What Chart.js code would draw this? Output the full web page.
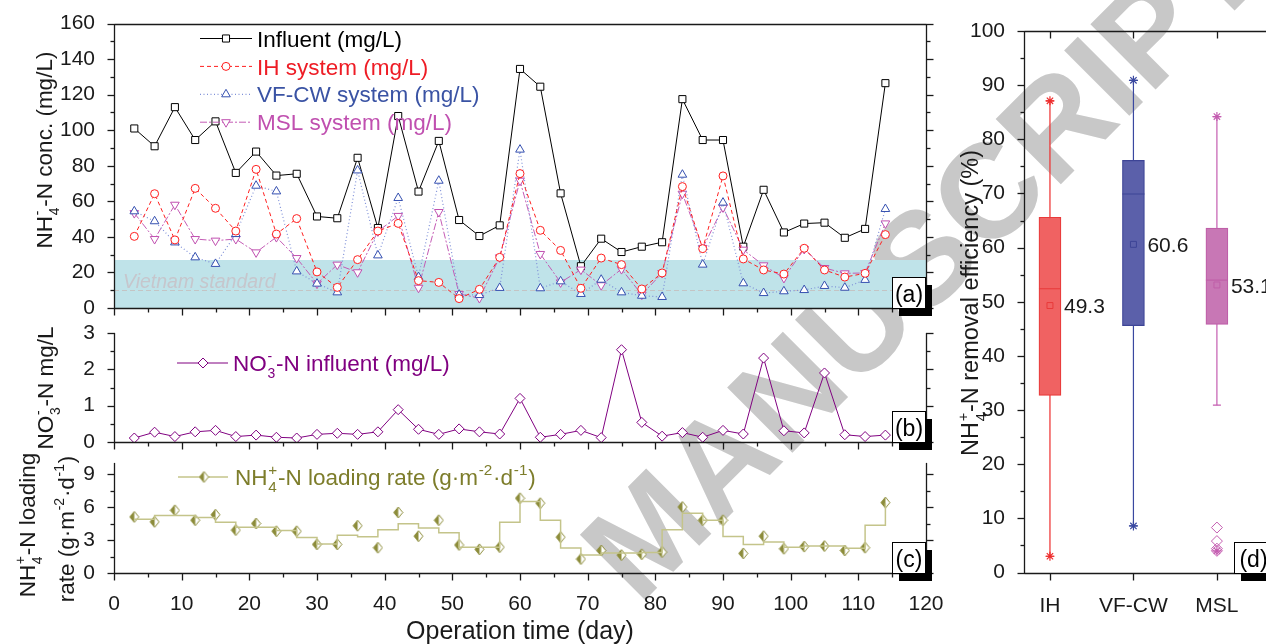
<!DOCTYPE html>
<html><head><meta charset="utf-8">
<script src="https://cdn.jsdelivr.net/npm/chart.js@4.4.1/dist/chart.umd.min.js"></script>
<style>
html,body{margin:0;padding:0;background:#fff;overflow:hidden;width:1266px;height:644px;position:relative;}
canvas{position:absolute;left:0;top:0;z-index:1;}
#wm{position:absolute;left:922px;top:258px;transform:translate(-50%,-50%) rotate(-45deg);font:bold 134px "Liberation Sans",Arial,sans-serif;color:#c8c8c8;white-space:nowrap;line-height:1;z-index:0;}
</style></head><body>
<div id="wm">MANUSCRIPT</div>
<canvas id="ca" width="1266" height="644"></canvas>
<canvas id="cb" width="1266" height="644"></canvas>
<canvas id="cc" width="1266" height="644"></canvas>
<canvas id="cd" width="1300" height="644"></canvas>
<script>
// ---------------- DATA ----------------
const days = [3,6,9,12,15,18,21,24,27,30,33,36,39,42,45,48,51,54,57,60,63,66,69,72,75,78,81,84,87,90,93,96,99,102,105,108,111,114];
const influent = [101,91,113,94.5,105,76,88,74.5,75.5,51.5,50.5,84.5,45,108,65.5,94,49.5,40.5,46.5,134.5,124.5,64.5,23.5,39,31.5,34.5,37,117.5,94.5,94.5,34.5,66.5,42.5,47.5,48,39.5,44.5,126.5];
const ihSystem = [40.3,64.3,38.3,67.3,56.1,43.3,78,41.6,50.3,20.3,11.6,27.2,43.3,47.6,15.4,14.4,5.3,10.5,28.5,75.6,43.7,32.4,11.1,28.1,24.4,10.7,19.7,68.3,33.4,74.3,27.6,21.4,19.1,33.6,21.4,17.4,19.5,41.3];
const vfcwSystem = [54.4,48.8,36.9,28.5,24.8,41.6,68.8,65.6,20.6,13.7,8.8,77.4,29.6,61.9,17.4,71.6,7.5,7.3,11.3,89.1,11.1,15,7.9,15.9,8.8,6.9,6.2,75,24.4,59.3,13.9,8.4,9.4,10.1,12.4,11.4,15.8,55.7];
const mslSystem = [53.4,38.8,58.1,38.8,37.9,38.8,31.3,39.9,28.1,13.7,24.4,20.1,43.1,51.8,11.4,54,7.9,5.6,28.5,71.6,30.4,14.4,21.6,12.8,21.9,7.5,19.7,64.3,33.8,56.6,32.8,24,16.9,33.2,22.5,19.5,19.7,47.6];
const no3Influent = [0.11,0.27,0.15,0.28,0.32,0.15,0.19,0.13,0.11,0.21,0.24,0.21,0.28,0.89,0.35,0.21,0.36,0.28,0.22,1.2,0.13,0.21,0.32,0.12,2.54,0.54,0.16,0.26,0.13,0.32,0.22,2.31,0.31,0.25,1.9,0.2,0.15,0.19];
const loadingRate = [5.1,4.65,5.7,4.8,5.3,3.9,4.5,3.8,3.8,2.6,2.6,4.3,2.3,5.5,3.35,4.8,2.55,2.15,2.35,6.8,6.35,3.26,1.27,2.05,1.63,1.7,1.9,6.0,4.8,4.8,1.78,3.35,2.2,2.4,2.45,2.05,2.3,6.4];
const loadingStep = [4.89,5.23,5.23,5.05,4.62,4.17,4.15,3.87,3.23,2.63,3.44,3.29,3.93,4.47,4.08,3.66,2.33,2.33,4.62,6.5,4.8,2.27,1.63,1.81,1.81,1.87,3.93,5.44,4.8,3.32,2.6,2.81,2.33,2.45,2.45,2.24,4.35,6.35];
const vnStandardBand = 27;
const vnStandardLine = 10;

const xMajor = [0,10,20,30,40,50,60,70,80,90,100,110,120];
const xMinor = [5,15,25,35,45,55,65,75,85,95,105,115];
const yTicksA = [0,20,40,60,80,100,120,140,160];
const yMinorA = [10,30,50,70,90,110,130,150];
const yTicksB = [0,1,2,3];
const yMinorB = [0.5,1.5,2.5];
const yTicksC = [0,3,6,9];
const yMinorC = [1.5,4.5,7.5];

const seriesNames = ['Influent (mg/L)','IH system (mg/L)','VF-CW system (mg/L)','MSL system (mg/L)'];

const boxCats = ['IH','VF-CW','MSL'];
const boxQ1 = [32.7,45.6,45.8];
const boxQ3 = [65.6,76.1,63.6];
const boxMedian = [52.4,69.9,54.0];
const boxMean = [49.3,60.6,53.1];
const whiskLo = [3.0,8.6,30.9];
const whiskHi = [87.1,90.9,84.2];
const dataMin = [3.0,8.6,4.0];
const dataMax = [87.1,90.9,84.2];
const mslOutliers = [8.3,5.8,4.4,4.0];
const yTicksD = [0,10,20,30,40,50,60,70,80,90,100];
const yMinorD = [5,15,25,35,45,55,65,75,85,95];

// ---------------- HELPERS ----------------
const FONT = '"Liberation Sans", Arial, Helvetica, sans-serif';
const INK = '#1a1a1a';
const TICKFONT = {family: FONT, size: 21};
const LEGSIZE = 22.5;
const pts = (xs, ys) => xs.map((x, i) => ({x, y: ys[i]}));
function seg(ctx, x1, y1, x2, y2) { ctx.beginPath(); ctx.moveTo(x1, y1); ctx.lineTo(x2, y2); ctx.stroke(); }

function rich(ctx, items, x, y, size, color, opts = {}) {
  const rot = opts.rot || 0, align = opts.align || 'left';
  const F = s => (opts.italic ? 'italic ' : '') + s + 'px ' + FONT;
  const sm = size * (opts.small || 0.62);
  ctx.save();
  ctx.translate(x, y); ctx.rotate(rot);
  ctx.fillStyle = color; ctx.textBaseline = 'alphabetic'; ctx.textAlign = 'left';
  let w = 0; const parts = [];
  for (const it of items) {
    if (typeof it === 'string') { ctx.font = F(size); const ww = ctx.measureText(it).width; parts.push({t: it, w: ww}); w += ww; }
    else { ctx.font = F(sm); const wb = it.b ? ctx.measureText(it.b).width : 0; const wp = it.p ? ctx.measureText(it.p).width : 0; const ww = Math.max(wb, wp) + 1.5; parts.push({b: it.b, p: it.p, w: ww}); w += ww; }
  }
  let cx = align === 'center' ? -w / 2 : 0;
  const base = size * 0.36;
  for (const p of parts) {
    if (p.t !== undefined) { ctx.font = F(size); ctx.fillText(p.t, cx, base); }
    else { ctx.font = F(sm); if (p.b) ctx.fillText(p.b, cx + 0.7, base + size * 0.3); if (p.p) ctx.fillText(p.p, cx + 0.7, base - size * 0.45); }
    cx += p.w;
  }
  ctx.restore();
}

function frame(chart, spec) {
  const ctx = chart.ctx, a = chart.chartArea, xs = chart.scales.x, ys = chart.scales.y;
  const L = Math.round(a.left) + 0.5, R = Math.round(a.right) + 0.5, T = Math.round(a.top) + 0.5, B = Math.round(a.bottom) + 0.5;
  ctx.save(); ctx.strokeStyle = INK; ctx.lineWidth = 1.3; ctx.setLineDash([]);
  seg(ctx, L, T - 0.6, L, B + 0.6); seg(ctx, L, B, R, B);
  if (spec.right) seg(ctx, R, T - 0.6, R, B + 0.6);
  if (spec.top) seg(ctx, L, T, R, T);
  for (const [vals, len] of [[spec.yMajor, 7], [spec.yMinor || [], 4]]) for (const v of vals) {
    const y = Math.round(ys.getPixelForValue(v)) + 0.5;
    seg(ctx, L - len, y, L, y); if (spec.right) seg(ctx, R, y, R + len, y);
  }
  for (const [vals, len] of [[spec.xMajor, 7], [spec.xMinor || [], 4]]) for (const v of vals) {
    const x = Math.round(xs.getPixelForValue(v)) + 0.5;
    seg(ctx, x, B, x, B + len); if (spec.topTicks) seg(ctx, x, T, x, T + len);
  }
  ctx.restore();
}

function tag(ctx, x, y, w, h, text) {
  ctx.save();
  ctx.fillStyle = '#000'; ctx.fillRect(x + 7, y + 8, w, h);
  ctx.fillStyle = '#fff'; ctx.fillRect(x, y, w, h);
  ctx.strokeStyle = '#000'; ctx.lineWidth = 1; ctx.strokeRect(x + 0.5, y + 0.5, w, h);
  ctx.restore();
  rich(ctx, [text], x + w / 2 + 0.5, y + h / 2 + 1, 23, '#000', {align: 'center'});
}

function halfDiamond(color) {
  const c = document.createElement('canvas'); c.width = 11; c.height = 13;
  const g = c.getContext('2d'); const cx = 5.5, cy = 6.5, hw = 4.5, hh = 5.5;
  const dia = () => { g.beginPath(); g.moveTo(cx, cy - hh); g.lineTo(cx + hw, cy); g.lineTo(cx, cy + hh); g.lineTo(cx - hw, cy); g.closePath(); };
  dia(); g.fillStyle = '#fff'; g.fill();
  g.beginPath(); g.moveTo(cx, cy - hh); g.lineTo(cx, cy + hh); g.lineTo(cx - hw, cy); g.closePath(); g.fillStyle = color; g.fill();
  dia(); g.strokeStyle = color; g.lineWidth = 1; g.stroke();
  return c;
}

const baseOpts = (top, bottom, ymin, ymax, yticks, showX) => ({
  responsive: false, animation: false, devicePixelRatio: 1,
  layout: {padding: {left: 0, top: top, right: 340, bottom: 0}},
  plugins: {legend: {display: false}, tooltip: {enabled: false}},
  scales: {
    x: {type: 'linear', min: 0, max: 120, grid: {display: false}, border: {display: false},
        ticks: {display: showX, font: TICKFONT, color: INK, padding: 11, maxRotation: 0, autoSkip: false},
        afterBuildTicks(s) { s.ticks = xMajor.map(v => ({value: v})); },
        afterFit(s) { s.height = 644 - bottom; }},
    y: {type: 'linear', min: ymin, max: ymax, grid: {display: false}, border: {display: false},
        ticks: {font: TICKFONT, color: INK, padding: 11},
        afterBuildTicks(s) { s.ticks = yticks.map(v => ({value: v})); },
        afterFit(s) { s.width = 114; }}
  }
});

// ---------------- PANEL (a) ----------------
new Chart(document.getElementById('ca'), {
  type: 'line',
  data: {datasets: [
    {label: seriesNames[1], data: pts(days, ihSystem), borderColor: '#ff1f1f', borderWidth: 1, borderDash: [4, 3], pointStyle: 'circle', pointRadius: 4, pointBorderColor: '#ff1f1f', pointBackgroundColor: '#fff', pointBorderWidth: 1, legendColor: '#ee1c25'},
    {label: seriesNames[2], data: pts(days, vfcwSystem), borderColor: '#7f90d8', borderWidth: 1.2, borderDash: [1, 2.5], pointStyle: 'triangle', pointRadius: 5, pointBorderColor: '#3550b0', pointBackgroundColor: '#fff', pointBorderWidth: 1, legendColor: '#3a53a4'},
    {label: seriesNames[3], data: pts(days, mslSystem), borderColor: '#c45cb5', borderWidth: 1, borderDash: [7, 2, 2, 2], pointStyle: 'triangle', pointRotation: 180, pointRadius: 5, pointBorderColor: '#c050b0', pointBackgroundColor: '#fff', pointBorderWidth: 1, legendColor: '#c050b0'},
    {label: seriesNames[0], data: pts(days, influent), borderColor: '#000', borderWidth: 1, pointStyle: 'rect', pointRadius: 5, pointBorderColor: '#000', pointBackgroundColor: '#fff', pointBorderWidth: 1, legendColor: '#000'}
  ]},
  options: baseOpts(23, 308, 0, 160, yTicksA, false),
  plugins: [{
    id: 'pa',
    beforeDatasetsDraw(c) {
      const ctx = c.ctx, a = c.chartArea, y = c.scales.y;
      const yt = y.getPixelForValue(vnStandardBand), yb = y.getPixelForValue(0);
      ctx.save();
      ctx.fillStyle = '#bfe3e9'; ctx.fillRect(a.left, yt, a.right - a.left, yb - yt);
      ctx.strokeStyle = '#c4c4c4'; ctx.lineWidth = 1; ctx.setLineDash([5, 3]);
      const yl = Math.round(y.getPixelForValue(vnStandardLine)) + 0.5; seg(ctx, a.left, yl, a.right, yl);
      ctx.restore();
      rich(ctx, ['Vietnam standard'], 123, 281, 19.5, '#c6c6cc', {italic: true});
    },
    afterDraw(c) {
      const ctx = c.ctx;
      frame(c, {right: true, top: true, yMajor: yTicksA, yMinor: yMinorA, xMajor: xMajor, xMinor: xMinor});
      const order = [3, 0, 1, 2];
      order.forEach((di, i) => {
        const d = c.data.datasets[di]; const y = 38.5 + i * 27.9;
        ctx.save(); ctx.strokeStyle = d.borderColor; ctx.lineWidth = d.borderWidth; ctx.setLineDash(d.borderDash || []); seg(ctx, 200, y, 252, y); ctx.restore();
        ctx.save(); ctx.fillStyle = '#fff'; ctx.strokeStyle = d.pointBorderColor; ctx.lineWidth = 1; ctx.setLineDash([]);
        Chart.helpers.drawPoint(ctx, {pointStyle: d.pointStyle, radius: d.pointRadius, rotation: d.pointRotation || 0, borderWidth: 1}, 226, y); ctx.restore();
        rich(ctx, [d.label], 257, y, LEGSIZE, d.legendColor);
      });
      tag(ctx, 892, 277, 33, 31, '(a)');
      rich(ctx, ['NH', {b: '4', p: '-'}, '-N conc. (mg/L)'], 44, 150, 22.5, INK, {align: 'center', rot: -Math.PI / 2});
    }
  }]
});

// ---------------- PANEL (b) ----------------
new Chart(document.getElementById('cb'), {
  type: 'line',
  data: {datasets: [
    {label: 'NO3-N influent (mg/L)', data: pts(days, no3Influent), borderColor: '#800080', borderWidth: 1, pointStyle: 'rectRot', pointRadius: 5, pointBorderColor: '#800080', pointBackgroundColor: '#fff', pointBorderWidth: 1}
  ]},
  options: baseOpts(333, 442, 0, 3, yTicksB, false),
  plugins: [{
    id: 'pb',
    afterDraw(c) {
      const ctx = c.ctx;
      frame(c, {right: true, yMajor: yTicksB, yMinor: yMinorB, xMajor: xMajor, xMinor: xMinor});
      const y = 363;
      ctx.save(); ctx.strokeStyle = '#800080'; ctx.lineWidth = 1; seg(ctx, 177, y, 228, y);
      ctx.fillStyle = '#fff'; Chart.helpers.drawPoint(ctx, {pointStyle: 'rectRot', radius: 5, rotation: 0, borderWidth: 1}, 203, y); ctx.restore();
      rich(ctx, ['NO', {b: '3', p: '-'}, '-N influent (mg/L)'], 233, y, LEGSIZE, '#800080');
      tag(ctx, 892, 411, 33, 31, '(b)');
      rich(ctx, ['NO', {b: '3', p: '-'}, '-N mg/L'], 45, 388, 22.5, INK, {align: 'center', rot: -Math.PI / 2});
    }
  }]
});

// ---------------- PANEL (c) ----------------
const olive = '#8c8c3a';
const hd = halfDiamond(olive);
new Chart(document.getElementById('cc'), {
  type: 'line',
  data: {datasets: [
    {label: 'step', data: pts(days, loadingStep), stepped: true, borderColor: '#c4c48a', borderWidth: 1.5, pointRadius: 0},
    {label: 'NH4+-N loading rate', data: pts(days, loadingRate), showLine: false, pointStyle: hd, pointRadius: 5}
  ]},
  options: baseOpts(463, 573, 0, 10, yTicksC, true),
  plugins: [{
    id: 'pc',
    afterDraw(c) {
      const ctx = c.ctx;
      frame(c, {right: true, yMajor: yTicksC, yMinor: yMinorC, xMajor: xMajor, xMinor: xMinor});
      const y = 477;
      ctx.save(); ctx.strokeStyle = '#c4c48a'; ctx.lineWidth = 1.5; seg(ctx, 178, y, 228, y);
      ctx.drawImage(hd, 204 - hd.width / 2, y - hd.height / 2); ctx.restore();
      rich(ctx, ['NH', {b: '4', p: '+'}, '-N loading rate (g·m', {p: '-2'}, '·d', {p: '-1'}, ')'], 235, y, LEGSIZE, '#7d7d2b', {small: 0.68});
      tag(ctx, 892, 542, 33, 31, '(c)');
      rich(ctx, ['NH', {b: '4', p: '+'}, '-N loading'], 27, 525, 22.5, INK, {align: 'center', rot: -Math.PI / 2});
      rich(ctx, ['rate (g·m', {p: '-2'}, '·d', {p: '-1'}, ')'], 66, 529, 22.5, INK, {align: 'center', rot: -Math.PI / 2});
      rich(ctx, ['Operation time (day)'], 520, 630, 25, INK, {align: 'center'});
    }
  }]
});

// ---------------- PANEL (d) ----------------
const boxFill = ['#f06262', '#5b60aa', '#c877b5'];
const boxEdge = ['#e83a3a', '#3d4496', '#bf5fa8'];
const whiskColor = ['#ee2c2c', '#3a48a0', '#c45cb0'];
const dSets = [
  {type: 'bar', data: boxCats.map((c, i) => ({x: i + 1, y: [boxQ1[i], boxQ3[i]]})), backgroundColor: boxFill, borderColor: boxEdge, borderWidth: 1.2, borderSkipped: false, barThickness: 22, order: 2}
];
boxCats.forEach((c, i) => {
  dSets.push({type: 'line', data: [{x: i + 1, y: whiskLo[i]}, {x: i + 1, y: whiskHi[i]}], borderColor: whiskColor[i], borderWidth: 1.2, pointStyle: 'line', pointRadius: 4, pointBorderColor: whiskColor[i], pointBorderWidth: 1.2, order: 3});
});
dSets.push({type: 'line', showLine: false, data: boxCats.map((c, i) => ({x: i + 1, y: boxMedian[i]})), pointStyle: 'line', pointRadius: 11, pointBorderColor: boxEdge, pointBorderWidth: 1.2, order: 1});
dSets.push({type: 'line', showLine: false, data: boxCats.map((c, i) => ({x: i + 1, y: boxMean[i]})), pointStyle: 'rect', pointRadius: 4.2, pointBackgroundColor: 'rgba(0,0,0,0)', pointBorderColor: boxEdge, pointBorderWidth: 1, order: 1});
dSets.push({type: 'line', showLine: false, data: boxCats.flatMap((c, i) => [{x: i + 1, y: dataMin[i]}, {x: i + 1, y: dataMax[i]}]), pointStyle: 'star', pointRadius: 4.5, pointBorderColor: whiskColor.flatMap(col => [col, col]), pointBorderWidth: 1.2, order: 0});
dSets.push({type: 'line', showLine: false, data: mslOutliers.map(v => ({x: 3, y: v})), pointStyle: 'rectRot', pointRadius: 5.5, pointBackgroundColor: 'rgba(255,255,255,0)', pointBorderColor: '#c45cb0', pointBorderWidth: 1, order: 0});

new Chart(document.getElementById('cd'), {
  type: 'bar',
  data: {datasets: dSets},
  options: {
    responsive: false, animation: false, devicePixelRatio: 1,
    layout: {padding: {left: 0, top: 31, right: 28, bottom: 0}},
    plugins: {legend: {display: false}, tooltip: {enabled: false}},
    scales: {
      x: {type: 'linear', offset: false, min: 0.689, max: 3.66, grid: {display: false}, border: {display: false},
          ticks: {font: TICKFONT, color: INK, padding: 13, maxRotation: 0, autoSkip: false, callback: v => boxCats[v - 1] || ''},
          afterBuildTicks(s) { s.ticks = boxCats.map((c, i) => ({value: i + 1})); },
          afterFit(s) { s.height = 644 - 572.5; }},
      y: {type: 'linear', min: 0, max: 100, grid: {display: false}, border: {display: false},
          ticks: {font: TICKFONT, color: INK, padding: 11},
          afterBuildTicks(s) { s.ticks = yTicksD.map(v => ({value: v})); },
          afterFit(s) { s.width = 1024; }}
    }
  },
  plugins: [{
    id: 'pd',
    afterDraw(c) {
      const ctx = c.ctx, xs = c.scales.x, ys = c.scales.y;
      frame(c, {right: true, top: true, topTicks: true, yMajor: yTicksD, yMinor: yMinorD, xMajor: [1, 2, 3]});
      boxMean.forEach((m, i) => rich(ctx, [m.toFixed(1)], xs.getPixelForValue(i + 1) + 14, ys.getPixelForValue(m), 21, INK));
      tag(ctx, 1234, 542, 38, 31, '(d)');
      rich(ctx, ['NH', {b: '4', p: '+'}, '-N removal efficiency (%)'], 970, 303, 23.5, INK, {align: 'center', rot: -Math.PI / 2});
    }
  }]
});
</script>
</body></html>
